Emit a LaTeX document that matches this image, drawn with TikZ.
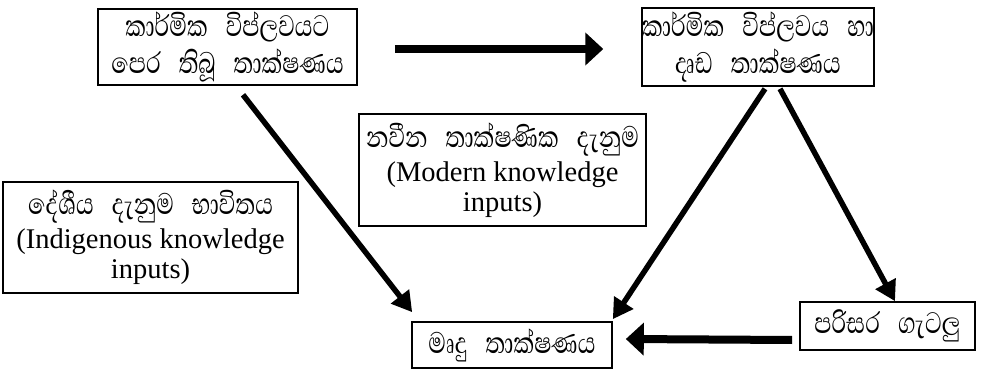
\documentclass[tikz,border=0pt]{standalone}
\usepackage{fontspec}
\setmainfont{Liberation Serif}
\newfontfamily\sifont[Script=Sinhala,FakeStretch=0.77]{Abhaya Libre}
\newcommand{\sitext}{\sifont\fontsize{38}{34}\selectfont}
\newcommand{\wgap}{\hspace{18pt}}
\usetikzlibrary{arrows.meta}

\begin{document}
\begin{tikzpicture}[x=1pt,y=-1pt,
    box/.style={draw,line width=1.6pt,shape=rectangle,align=center,inner sep=0pt},
    arr/.style={line width=5.5pt,-{Triangle[length=20pt,width=22pt]}},
    bigarr/.style={line width=8pt,-{Triangle[length=18pt,width=32pt]}},
    every node/.style={font=\fontsize{28.5}{30}\selectfont}]
  \useasboundingbox (0,0) rectangle (984,371);
  % boxes
  \node[box,minimum width=259pt,minimum height=76pt] (pretech) at (227.5,47)
    {\sitext කාර්මික\wgap විප්ලවයට\\[6pt] \sitext පෙර\wgap තිබූ\wgap තාක්ෂණය};
  \node[box,minimum width=216pt,minimum height=78pt] (hardtech) at (758,47)
    {\sitext කාර්මික\wgap විප්ලවය\wgap හා\\[6pt] \sitext දෘඩ\wgap තාක්ෂණය};
  \node[box,minimum width=287pt,minimum height=112pt] (modern) at (502.5,170)
    {{\sitext නවීන\wgap තාක්ෂණික\wgap දැනුම}\\[4pt] (Modern knowledge\\ inputs)};
  \node[box,minimum width=295pt,minimum height=111pt] (indig) at (150.5,237.5)
    {{\sitext දේශීය\wgap දැනුම\wgap භාවිතය}\\[4pt] (Indigenous knowledge\\ inputs)};
  \node[box,minimum width=200pt,minimum height=46pt] (softtech) at (512,345)
    {\sitext මෘදු\wgap තාක්ෂණය};
  \node[box,minimum width=175pt,minimum height=48pt] (envprob) at (887.5,326)
    {\sitext පරිසර\wgap ගැටලු};
  % arrow ends
  \coordinate (t1) at ([xshift=37pt,yshift=-2pt]pretech.east);
  \coordinate (t2) at ([xshift=-38pt,yshift=-2pt]hardtech.west);
  \coordinate (d1) at ([xshift=15.5pt,yshift=-9pt]pretech.south);
  \coordinate (d2) at ([xshift=1pt,yshift=9pt]softtech.north west);
  \coordinate (d3) at ([xshift=7pt,yshift=-2pt]hardtech.south);
  \coordinate (d4) at ([yshift=2pt]softtech.north east);
  \coordinate (d5) at ([xshift=22pt,yshift=-2pt]hardtech.south);
  \coordinate (d6) at ([xshift=7.5pt]envprob.north);
  \coordinate (b1) at ([xshift=-7pt,yshift=-14pt]envprob.west);
  \coordinate (b2) at ([xshift=13pt,yshift=6pt]softtech.east);
  % arrows
  \draw[bigarr] (t1) -- (t2);
  \draw[arr] (d1) -- (d2);
  \draw[arr] (d3) -- (d4);
  \draw[arr] (d5) -- (d6);
  \draw[bigarr] (b1) -- (b2);
\end{tikzpicture}
\end{document}
